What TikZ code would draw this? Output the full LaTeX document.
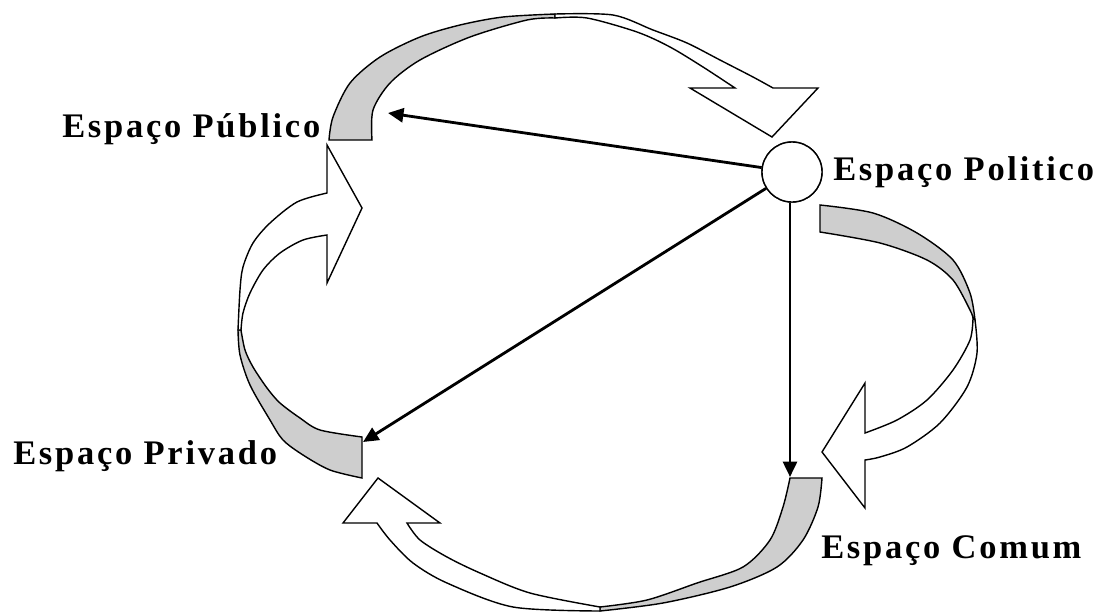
\documentclass[tikz,border=0pt]{standalone}
\usepackage{fontspec}
\newfontfamily\labfont{Liberation Serif}[LetterSpace=8]
\usetikzlibrary{arrows.meta}
\definecolor{bandgray}{RGB}{206,206,206}
\tikzset{
  band/.style={draw=black, line width=1pt, line join=miter},
  backface/.style={band, fill=bandgray},
  frontface/.style={band, fill=white},
  link/.style={draw=black, line width=2pt, -{Triangle[length=11pt,width=10pt]}},
  lab/.style={font=\labfont\bfseries\fontsize{24.5}{29}\selectfont, inner sep=0pt, anchor=base west},
  hub/.style={circle, draw=black, fill=white, line width=1pt, minimum size=1.5cm, inner sep=0pt}
}
\begin{document}
\begin{tikzpicture}[x=0.025cm,y=-0.025cm]
\useasboundingbox[fill=white] (0,0) rectangle (1104,613);
% top curved arrow
\path[backface] plot[smooth] coordinates {(329,140) (333,117) (350,83) (380,57) (420,37) (460,25) (503,17) (555,14)}
  -- plot[smooth] coordinates {(555,18) (527,20) (470,37) (420,60) (390,83) (373,110) (372,140)} -- cycle;
\path[frontface] plot[smooth] coordinates {(555,14) (613,15) (653,30) (687,43) (720,60) (753,77) (773,88)}
  -- (818,88) -- (772,137) -- (690,88) -- (735,88)
  -- plot[smooth] coordinates {(735,88) (703,67) (670,47) (637,32) (587,18) (555,18)} -- cycle;
% left curved arrow
\path[backface] plot[smooth] coordinates {(362,478) (330,470) (303,455) (283,440) (270,420) (250,385) (240,355) (238,330)}
  -- plot[smooth] coordinates {(241,330) (245,350) (253,367) (267,388) (280,403) (300,418) (320,430) (362,437)} -- cycle;
\path[frontface] plot[smooth] coordinates {(238,330) (240,290) (243,267) (253,243) (270,223) (297,202) (327,193)}
  -- (327,145) -- (362,208) -- (327,283) -- (327,235)
  -- plot[smooth] coordinates {(327,235) (303,240) (280,253) (263,270) (250,293) (243,313) (241,330)} -- cycle;
% right curved arrow
\path[backface] plot[smooth] coordinates {(820,205) (873,213) (917,233) (953,260) (970,293) (975,320)}
  -- plot[smooth] coordinates {(973,318) (970,310) (953,280) (927,260) (880,243) (820,232)} -- cycle;
\path[frontface] plot[smooth] coordinates {(975,320) (977,353) (967,387) (940,423) (907,447) (880,457) (865,460)}
  -- (865,508) -- (822,452) -- (865,383) -- (865,433)
  -- plot[smooth] coordinates {(865,433) (897,420) (927,400) (953,370) (970,340) (973,318)} -- cycle;
% bottom curved arrow
\path[backface] plot[smooth] coordinates {(822,478) (818,507) (803,540) (777,567) (730,587) (663,603) (600,611)}
  -- plot[smooth] coordinates {(600,607) (647,600) (697,583) (743,567) (770,540) (783,507) (790,478)} -- cycle;
\path[frontface] plot[smooth] coordinates {(600,611) (513,607) (447,583) (413,563) (390,540) (377,523)}
  -- (343,523) -- (378,478) -- (440,523) -- (407,523)
  -- plot[smooth] coordinates {(407,523) (420,540) (447,557) (480,573) (530,593) (600,607)} -- cycle;
% labels
\node[lab] (pub) at (62,137) {Espaço Público};
\node[lab] (priv) at (13,464) {Espaço Privado};
\node[lab] (polt) at (833,180) {Espaço Politico};
\node[lab] (com) at (821,558) {Espaço Comum};
% hub and straight arrows
\coordinate (pubtip) at (388,113);
\coordinate (privtip) at (363,442);
\coordinate (comtip) at (790,477);
\node[hub] (pol) at (792,172) {};
\draw[link] (pol) -- (pubtip);
\draw[link] (pol) -- (privtip);
\draw[link] (pol.south -| comtip) -- (comtip);
\node[hub] at (pol) {};
\end{tikzpicture}
\end{document}
